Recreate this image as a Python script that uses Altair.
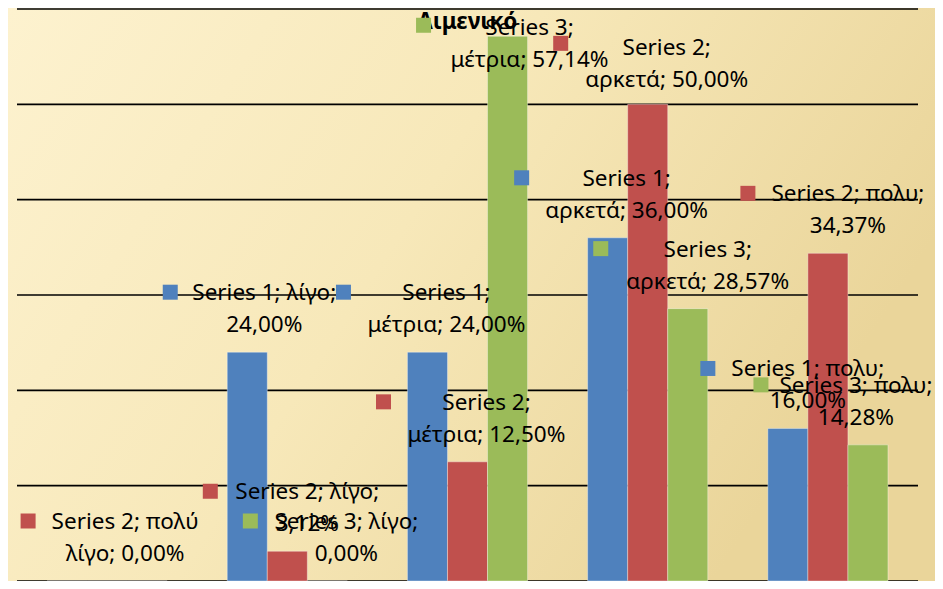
import altair as alt
import pandas as pd

# ---- data -------------------------------------------------------------
categories = ["πολύ λίγο", "λίγο", "μέτρια", "αρκετά", "πολυ"]
series_names = ["Series 1", "Series 2", "Series 3"]
series_1 = [0.00, 24.00, 24.00, 36.00, 16.00]
series_2 = [0.00, 3.12, 12.50, 50.00, 34.37]
series_3 = [0.00, 0.00, 57.14, 28.57, 14.28]
y_ticks = [0, 10, 20, 30, 40, 50, 60]
title_text = "Λιμενικό"

# data labels that are visible in the picture
labelled = [
    ("Series 2", "πολύ λίγο"), ("Series 3", "λίγο"), ("Series 2", "λίγο"),
    ("Series 1", "λίγο"), ("Series 1", "μέτρια"), ("Series 2", "μέτρια"),
    ("Series 3", "μέτρια"), ("Series 2", "αρκετά"), ("Series 1", "αρκετά"),
    ("Series 3", "αρκετά"), ("Series 2", "πολυ"), ("Series 1", "πολυ"),
    ("Series 3", "πολυ"),
]

# ---- styles -------------------------------------------------------------
colors = ["#4F81BD", "#C0504D", "#9BBB59"]
FONT = "Noto Sans"
FS = 22.5
LH = 32
# per-label offsets (pixels, relative to the bar's top centre)
label_style = {
    ("Series 2", "πολύ λίγο"): dict(tdx=18, mdx=-79),
    ("Series 3", "λίγο"): dict(tdx=19, mdx=-77),
    ("Series 2", "λίγο"): dict(tdx=20, mdx=-77),
    ("Series 1", "λίγο"): dict(tdx=17, mdx=-77),
    ("Series 1", "μέτρια"): dict(tdx=19, mdx=-84),
    ("Series 2", "μέτρια"): dict(tdx=19, mdx=-84),
    ("Series 3", "μέτρια"): dict(tdx=22, mdx=-84, tdy=-1, mdy=-11),
    ("Series 2", "αρκετά"): dict(tdx=19, mdx=-87, tdy=-49, mdy=-61),
    ("Series 1", "αρκετά"): dict(tdx=19, mdx=-86),
    ("Series 3", "αρκετά"): dict(tdx=20, mdx=-87),
    ("Series 2", "πολυ"): dict(tdx=20, mdx=-80),
    ("Series 1", "πολυ"): dict(tdx=20, mdx=-80),
    ("Series 3", "πολυ"): dict(tdx=-12, mdx=-107),
}

# ---- build tables -------------------------------------------------------
values = {"Series 1": series_1, "Series 2": series_2, "Series 3": series_3}
rows = []
for s in series_names:
    for c, v in zip(categories, values[s]):
        rows.append({"series": s, "category": c, "value": v})
df = pd.DataFrame(rows)


def wrap(text, limit=15):
    lines, cur = [], ""
    for w in text.split(" "):
        cand = w if not cur else cur + " " + w
        if len(cand) <= limit or not cur:
            cur = cand
        else:
            lines.append(cur)
            cur = w
    lines.append(cur)
    return "\n".join(lines)


W, H = 901, 572
PAD = {"left": 9, "top": 1, "right": 17, "bottom": 0}

x_enc = alt.X("category:N", sort=categories,
              scale=alt.Scale(domain=categories, paddingInner=1 / 3, paddingOuter=1 / 6),
              axis=None)
xo_enc = alt.XOffset("series:N", sort=series_names,
                     scale=alt.Scale(domain=series_names, paddingInner=0, paddingOuter=0))
y_enc = alt.Y("value:Q", scale=alt.Scale(domain=[0, 60], nice=False, zero=True), axis=None)
color_enc = alt.Color("series:N", scale=alt.Scale(domain=series_names, range=colors), legend=None)

background = alt.Chart(pd.DataFrame({"a": [0]})).mark_rect(
    color=alt.Gradient(
        gradient="linear",
        stops=[alt.GradientStop(color="#FDF2CF", offset=0),
               alt.GradientStop(color="#F7E8B9", offset=0.5),
               alt.GradientStop(color="#EAD59A", offset=1)],
        x1=0, x2=1, y1=0, y2=0.4,
    )
).encode(x=alt.value(-PAD["left"]), x2=alt.value(W + PAD["right"]),
         y=alt.value(-PAD["top"]), y2=alt.value(H + 1))

grid = alt.Chart(pd.DataFrame({"tick": y_ticks})).mark_rule(
    color="#000000", strokeWidth=1.6
).encode(y=alt.Y("tick:Q", scale=alt.Scale(domain=[0, 60], nice=False, zero=True), axis=None))

bars = alt.Chart(df).mark_bar(stroke="#ffffff", strokeWidth=0.8, strokeOpacity=0.45).encode(
    x=x_enc, xOffset=xo_enc, y=y_enc, color=color_enc
)

layers = [background, grid, bars]

title_layer = alt.Chart(pd.DataFrame({"t": [title_text]})).mark_text(
    font=FONT, fontWeight="bold", fontSize=22.5, align="center", baseline="alphabetic", color="#000000"
).encode(text="t:N", x=alt.value(W / 2), y=alt.value(20))
layers.append(title_layer)

SQ = 15  # legend-key square side in px
for (s, c) in labelled:
    v = values[s][categories.index(c)]
    txt = wrap(f"{s}; {c}; " + f"{v:.2f}".replace(".", ",") + "%")
    st = label_style[(s, c)]
    mdx, mdy = st["mdx"], st.get("mdy", -60)
    # custom symbol path: with size=4 one path unit equals one pixel
    path = (f"M {mdx - SQ / 2} {mdy - SQ / 2} h {SQ} v {SQ} h {-SQ} Z")
    ldf = pd.DataFrame([{"series": s, "category": c, "value": v, "label": txt}])
    marker = alt.Chart(ldf).mark_point(
        shape=path, size=4, filled=True, opacity=1, strokeWidth=0
    ).encode(x=x_enc, xOffset=xo_enc, y=y_enc, color=color_enc)
    text = alt.Chart(ldf).mark_text(
        font=FONT, fontSize=FS, lineHeight=LH, lineBreak="\n", align="center",
        baseline="alphabetic", color="#000000",
        dx=st["tdx"], dy=st.get("tdy", -52)
    ).encode(x=x_enc, xOffset=xo_enc, y=y_enc, text="label:N")
    layers += [marker, text]

chart = alt.layer(*layers).properties(
    width=W, height=H,
    padding=PAD,
    autosize=alt.AutoSizeParams(type="none"),
    background="#F4E3B0",
).configure_view(stroke=None)

chart.save("out.html", embed_options={"renderer": "svg", "actions": False})
